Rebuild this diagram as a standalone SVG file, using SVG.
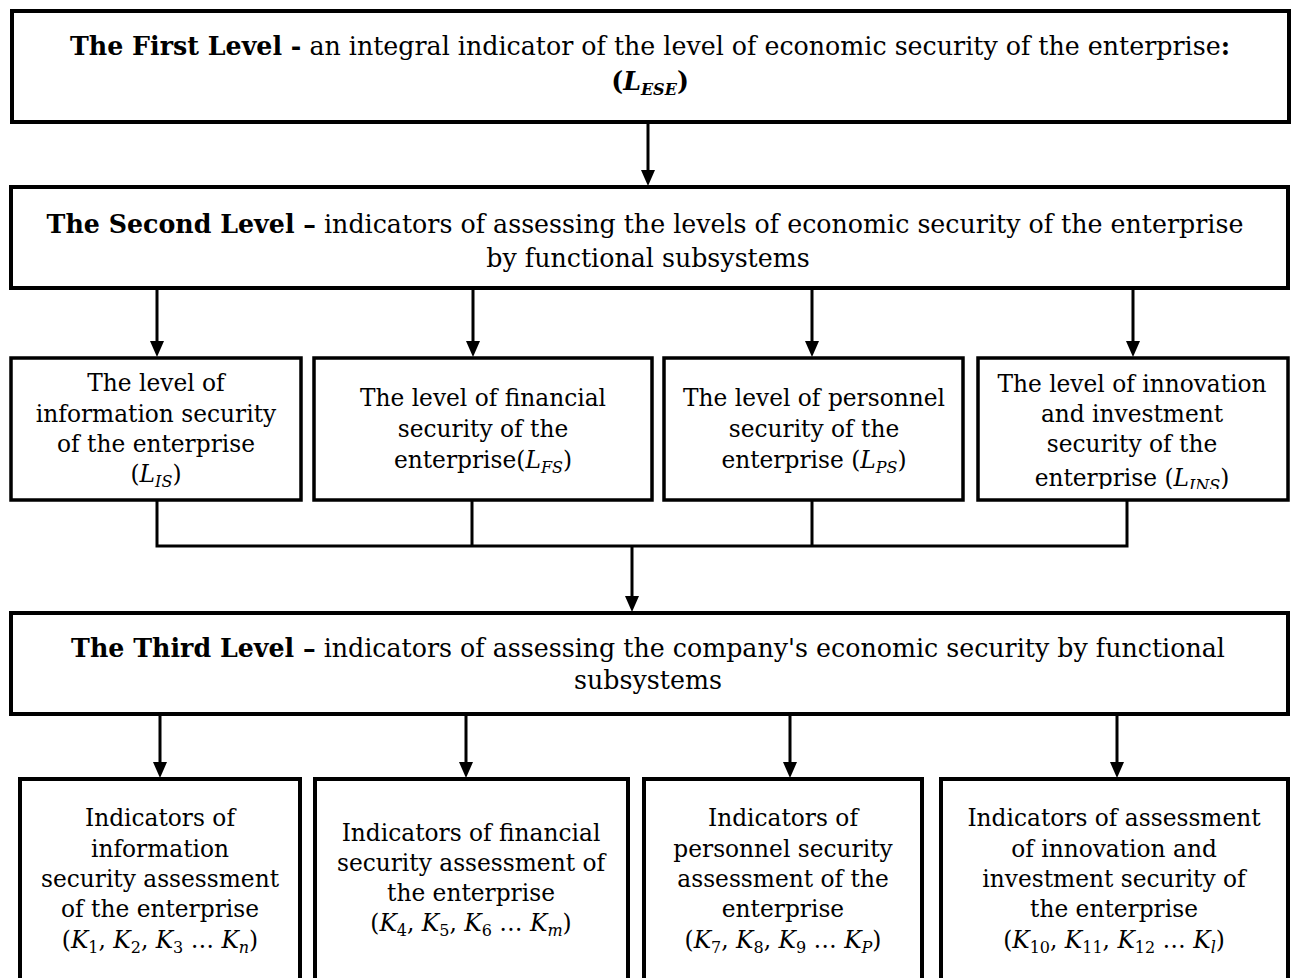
<svg xmlns="http://www.w3.org/2000/svg" width="1296" height="978" viewBox="0 0 1296 978">
<style>
.box{fill:#fff;stroke:#000;stroke-width:4}
.sbox{fill:#fff;stroke:#000;stroke-width:3.5}
.t{font-family:"DejaVu Serif","Liberation Serif",serif;font-size:23.3px;fill:#000;text-anchor:middle}
.h{font-size:25.3px}
.b{font-weight:bold}
.m{font-style:italic}
.s{font-size:16px;font-style:italic}
.d{font-size:16px}
.c{fill:none;stroke:#000;stroke-width:3}
</style>
<defs>
<clipPath id="clip4"><rect x="979" y="359" width="307" height="130"/></clipPath>
</defs>

<g id="connectors">
<path class="c" d="M648,122 V172"/>
<path class="c" d="M157,288 V343 M473,288 V343 M812,288 V343 M1133,288 V343"/>
<path class="c" d="M157,500 V546 H1127 V500 M472,500 V546 M812,500 V546"/>
<path class="c" d="M632,546 V598"/>
<path class="c" d="M160,714 V764 M466,714 V764 M790,714 V764 M1117,714 V764"/>
<g fill="#000">
<path d="M641,170 H655 L648,186 Z"/>
<path d="M150,341 H164 L157,357 Z"/>
<path d="M466,341 H480 L473,357 Z"/>
<path d="M805,341 H819 L812,357 Z"/>
<path d="M1126,341 H1140 L1133,357 Z"/>
<path d="M625,596 H639 L632,612 Z"/>
<path d="M153,762 H167 L160,778 Z"/>
<path d="M459,762 H473 L466,778 Z"/>
<path d="M783,762 H797 L790,778 Z"/>
<path d="M1110,762 H1124 L1117,778 Z"/>
</g>
</g>

<g id="level1">
<rect class="box" x="12" y="11" width="1277" height="111"/>
<text class="t h" x="650" y="55"><tspan class="b">The First Level -</tspan> an integral indicator of the level of economic security of the enterprise<tspan class="b">:</tspan></text>
<text class="t h b" x="650" y="90">(<tspan class="m">L</tspan><tspan class="s" dy="5">ESE</tspan><tspan dy="-5">)</tspan></text>
</g>

<g id="level2">
<rect class="box" x="11" y="187" width="1277" height="101"/>
<text class="t h" x="645" y="233"><tspan class="b">The Second Level –</tspan> indicators of assessing the levels of economic security of the enterprise</text>
<text class="t h" x="648" y="267">by functional subsystems</text>
</g>

<g id="is-level">
<rect class="sbox" x="11" y="358" width="290" height="142"/>
<text class="t" x="156" y="391">The level of</text>
<text class="t" x="156" y="422">information security</text>
<text class="t" x="156" y="452">of the enterprise</text>
<text class="t" x="156" y="482">(<tspan class="m">L</tspan><tspan class="s" dy="5">IS</tspan><tspan dy="-5">)</tspan></text>
</g>

<g id="fs-level">
<rect class="sbox" x="314" y="358" width="338" height="142"/>
<text class="t" x="483" y="406">The level of financial</text>
<text class="t" x="483" y="437">security of the</text>
<text class="t" x="483" y="468">enterprise(<tspan class="m">L</tspan><tspan class="s" dy="5">FS</tspan><tspan dy="-5">)</tspan></text>
</g>

<g id="ps-level">
<rect class="sbox" x="664" y="358" width="299" height="142"/>
<text class="t" x="814" y="406">The level of personnel</text>
<text class="t" x="814" y="437">security of the</text>
<text class="t" x="814" y="468">enterprise (<tspan class="m">L</tspan><tspan class="s" dy="5">PS</tspan><tspan dy="-5">)</tspan></text>
</g>

<g id="ins-level">
<rect class="sbox" x="978" y="358" width="310" height="142"/>
<g clip-path="url(#clip4)">
<text class="t" x="1132" y="392">The level of innovation</text>
<text class="t" x="1132" y="422">and investment</text>
<text class="t" x="1132" y="452">security of the</text>
<text class="t" x="1132" y="486">enterprise (<tspan class="m">L</tspan><tspan class="s" dy="5">INS</tspan><tspan dy="-5">)</tspan></text>
</g>
</g>

<g id="level3">
<rect class="box" x="11" y="613" width="1277" height="101"/>
<text class="t h" x="648" y="657"><tspan class="b">The Third Level –</tspan> indicators of assessing the company's economic security by functional</text>
<text class="t h" x="648" y="689">subsystems</text>
</g>

<g id="is-ind">
<rect class="box" x="20" y="779" width="280" height="215"/>
<text class="t" x="160" y="826">Indicators of</text>
<text class="t" x="160" y="857">information</text>
<text class="t" x="160" y="887">security assessment</text>
<text class="t" x="160" y="917">of the enterprise</text>
<text class="t" x="160" y="948">(<tspan class="m">K</tspan><tspan class="d" dy="5">1</tspan><tspan dy="-5">, </tspan><tspan class="m">K</tspan><tspan class="d" dy="5">2</tspan><tspan dy="-5">, </tspan><tspan class="m">K</tspan><tspan class="d" dy="5">3</tspan><tspan dy="-5"> … </tspan><tspan class="m">K</tspan><tspan class="s" dy="5">n</tspan><tspan dy="-5">)</tspan></text>
</g>

<g id="fs-ind">
<rect class="box" x="315" y="779" width="313" height="215"/>
<text class="t" x="471" y="841">Indicators of financial</text>
<text class="t" x="471" y="871">security assessment of</text>
<text class="t" x="471" y="901">the enterprise</text>
<text class="t" x="471" y="931">(<tspan class="m">K</tspan><tspan class="d" dy="5">4</tspan><tspan dy="-5">, </tspan><tspan class="m">K</tspan><tspan class="d" dy="5">5</tspan><tspan dy="-5">, </tspan><tspan class="m">K</tspan><tspan class="d" dy="5">6</tspan><tspan dy="-5"> … </tspan><tspan class="m">K</tspan><tspan class="s" dy="5">m</tspan><tspan dy="-5">)</tspan></text>
</g>

<g id="ps-ind">
<rect class="box" x="644" y="779" width="278" height="215"/>
<text class="t" x="783" y="826">Indicators of</text>
<text class="t" x="783" y="857">personnel security</text>
<text class="t" x="783" y="887">assessment of the</text>
<text class="t" x="783" y="917">enterprise</text>
<text class="t" x="783" y="948">(<tspan class="m">K</tspan><tspan class="d" dy="5">7</tspan><tspan dy="-5">, </tspan><tspan class="m">K</tspan><tspan class="d" dy="5">8</tspan><tspan dy="-5">, </tspan><tspan class="m">K</tspan><tspan class="d" dy="5">9</tspan><tspan dy="-5"> … </tspan><tspan class="m">K</tspan><tspan class="s" dy="5">P</tspan><tspan dy="-5">)</tspan></text>
</g>

<g id="ins-ind">
<rect class="box" x="941" y="779" width="347" height="215"/>
<text class="t" x="1114" y="826">Indicators of assessment</text>
<text class="t" x="1114" y="857">of innovation and</text>
<text class="t" x="1114" y="887">investment security of</text>
<text class="t" x="1114" y="917">the enterprise</text>
<text class="t" x="1114" y="948">(<tspan class="m">K</tspan><tspan class="d" dy="5">10</tspan><tspan dy="-5">, </tspan><tspan class="m">K</tspan><tspan class="d" dy="5">11</tspan><tspan dy="-5">, </tspan><tspan class="m">K</tspan><tspan class="d" dy="5">12</tspan><tspan dy="-5"> … </tspan><tspan class="m">K</tspan><tspan class="s" dy="5">l</tspan><tspan dy="-5">)</tspan></text>
</g>
</svg>
